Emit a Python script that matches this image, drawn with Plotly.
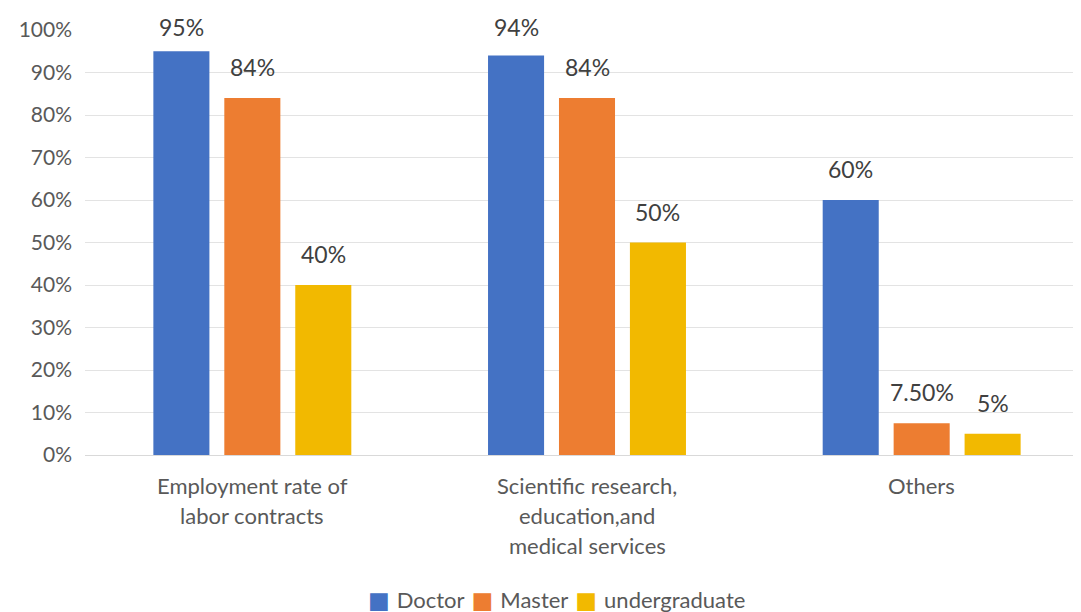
import plotly.graph_objects as go

categories = ["Employment rate of labor contracts",
              "Scientific research, education,and medical services",
              "Others"]
cat_lines = [["Employment rate of", "labor contracts"],
             ["Scientific research,", "education,and", "medical services"],
             ["Others"]]
series_names = ["Doctor", "Master", "undergraduate"]
doctor = [95, 94, 60]
master = [84, 84, 7.5]
undergrad = [40, 50, 5]
doctor_labels = ["95%", "94%", "60%"]
master_labels = ["84%", "84%", "7.50%"]
undergrad_labels = ["40%", "50%", "5%"]
colors = ["#4472C4", "#ED7D31", "#F2B900"]
y_ticks = [0, 10, 20, 30, 40, 50, 60, 70, 80, 90, 100]

FONT = "Lato, 'Open Sans', sans-serif"
xs = [0, 1, 2]
BARGAP = 0.364
slot = (1 - BARGAP) / 3
PLOT_H = 425          # plot area height in px (612 - 22 - 165)
PX_PER_UNIT = PLOT_H / 100.0
LABEL_GAP = 31        # px between bar top and label centre
TOP_LIMIT = 3         # label centre may not go higher than this many px above the plot top

fig = go.Figure()
all_vals = [doctor, master, undergrad]
all_labs = [doctor_labels, master_labels, undergrad_labels]
for name, vals, col in zip(series_names, all_vals, colors):
    fig.add_trace(go.Bar(
        x=xs, y=vals, name=name, marker=dict(color=col, line=dict(width=0)),
        cliponaxis=False, showlegend=False,
    ))

# data labels (kept inside the chart area, like the original)
for k, (vals, labs) in enumerate(zip(all_vals, all_labs)):
    for i, (v, lab) in enumerate(zip(vals, labs)):
        room = (100 - v) * PX_PER_UNIT + TOP_LIMIT
        fig.add_annotation(x=xs[i] + (k - 1) * slot, y=v, xref="x", yref="y",
                           text=lab, showarrow=False, yanchor="middle",
                           yshift=min(LABEL_GAP, room),
                           font=dict(family=FONT, size=23, color="#404040"))

# category labels
for i, lines in enumerate(cat_lines):
    for j, line in enumerate(lines):
        fig.add_annotation(x=xs[i], y=0, xref="x", yref="y", text=line,
                           showarrow=False, yanchor="middle",
                           yshift=-30 - 30 * j,
                           font=dict(family=FONT, size=22, color="#595959"))

# legend (compact, like the original)
GAP = "<span style='font-family:DejaVu Sans;font-size:22px'> </span>"
legend_parts = []
for name, col in zip(series_names, colors):
    legend_parts.append(
        f"<span style='color:{col};font-family:DejaVu Sans;font-size:23px'>■</span>"
        f"{GAP}{name}")
legend_text = GAP.join(legend_parts)
fig.add_annotation(x=0.47, y=-0.341, xref="paper", yref="paper", text=legend_text,
                   showarrow=False, xanchor="center", yanchor="middle",
                   font=dict(family=FONT, size=22, color="#595959"))

fig.update_layout(
    width=1081, height=612,
    margin=dict(l=77, r=0, t=22, b=165),
    paper_bgcolor="white", plot_bgcolor="white",
    barmode="group", bargap=BARGAP, bargroupgap=0.21,
    showlegend=False,
    xaxis=dict(range=[-0.5, 2.5], showticklabels=False, showgrid=False,
               showline=True, linecolor="#D9D9D9", linewidth=1, zeroline=False,
               ticks=""),
    yaxis=dict(range=[0, 100], tickvals=y_ticks,
               ticktext=[f"{v}%" for v in y_ticks],
               showgrid=True, gridcolor="#E3E3E3", gridwidth=1, zeroline=False,
               tickfont=dict(family=FONT, size=21, color="#595959"),
               ticklabelstandoff=12),
)

fig.write_html("out.html")
